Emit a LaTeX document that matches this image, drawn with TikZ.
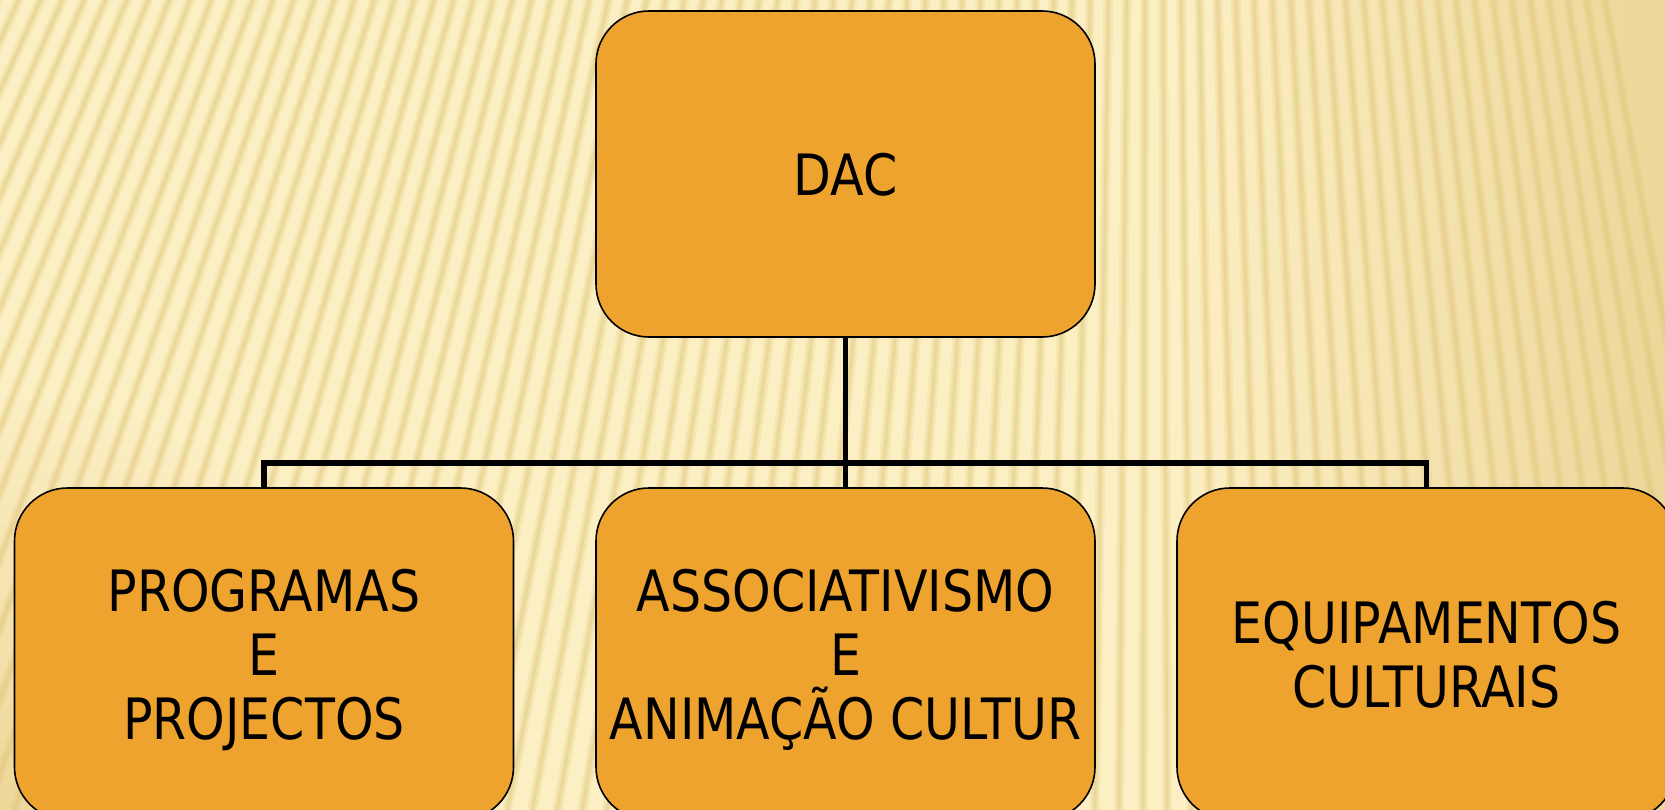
\documentclass[tikz,border=0pt]{standalone}
\usepackage{fontspec}
\newfontfamily\tah[FakeStretch=0.86]{DejaVu Sans}
\definecolor{bgc}{HTML}{FCEFC4}
\definecolor{bgdark}{HTML}{EDD79A}
\definecolor{stripec}{HTML}{E2C87C}
\definecolor{boxc}{HTML}{EFA32F}
\begin{document}
\begin{tikzpicture}[x=1pt,y=-1pt,
  box/.style={draw=black, line width=1.6pt, fill=boxc, rounded corners=53pt,
    minimum width=499pt, minimum height=332pt, inner sep=0pt, align=center,
    text depth=0pt, font=\tah\fontsize{57}{64}\selectfont},
  conn/.style={line width=5.5pt, draw=black, line join=miter},
  stripewide/.style={draw=stripec, line width=10pt, opacity=0.2},
  stripemid/.style={draw=stripec, line width=6pt, opacity=0.25},
  stripethin/.style={draw=stripec, line width=2.5pt, opacity=0.3}]
% background
\fill[bgc] (0,0) rectangle (1665,810);
\useasboundingbox (0,0) rectangle (1665,810);
\begin{scope}
  \clip (0,0) rectangle (1665,810);
  \shade[inner color=bgdark, outer color=bgc] (0,810) circle[radius=420pt];
  \shade[left color=bgc, right color=bgdark] (1180,0) rectangle (1665,810);
  \foreach \a in {-27,-26.58,...,10.5} {
    \draw[stripewide] (1150,-2485) -- ({1150+3295*tan(\a)},810);
    \draw[stripemid] (1150,-2485) -- ({1150+3295*tan(\a)},810);
    \draw[stripethin] (1150,-2485) -- ({1150+3295*tan(\a)},810);
  }
\end{scope}
% boxes
\node[box, minimum height=326pt] (dac) at (845.5,174) {DAC};
\node[box] (prog) at (264,654) {PROGRAMAS\\E\\PROJECTOS};
\node[box] (assoc) at (845.5,654) {ASSOCIATIVISMO\\E\\ANIMAÇÃO CULTUR};
\node[box] (equip) at (1426.5,654) {EQUIPAMENTOS\\CULTURAIS};
% connectors
\coordinate (bus) at (845.5,463);
\draw[conn] (dac.south) -- (assoc.north);
\draw[conn] (prog.north) -- (prog.north |- bus) -- (equip.north |- bus) -- (equip.north);
\end{tikzpicture}
\end{document}
